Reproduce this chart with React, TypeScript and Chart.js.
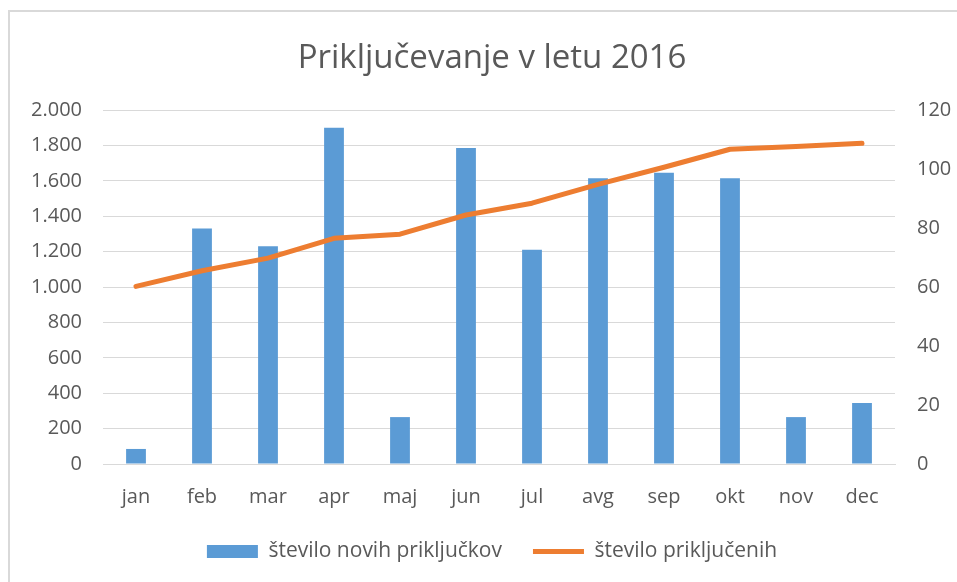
import React, { useEffect, useRef } from 'react';
import { Chart, registerables } from 'chart.js';

Chart.register(...registerables);

const titleText = 'Priključevanje v letu 2016';
const months = ['jan', 'feb', 'mar', 'apr', 'maj', 'jun', 'jul', 'avg', 'sep', 'okt', 'nov', 'dec'];
const newConnectionsLabel = 'število novih priključkov';
const newConnections = [85, 1330, 1230, 1900, 265, 1785, 1210, 1615, 1645, 1615, 265, 345];
const connectedLabel = 'število priključenih';
const connected = [60.2, 65.5, 69.8, 76.5, 77.9, 84.4, 88.4, 94.8, 100.6, 106.7, 107.6, 108.7];
const leftAxis = { min: 0, max: 2000, step: 200 };
const rightAxis = { min: 0, max: 120, step: 20 };

const FONT = '"Open Sans", "DejaVu Sans", sans-serif';
const TEXT = '#595959';
const GRID = '#D9D9D9';
const BLUE = '#5B9BD5';
const ORANGE = '#ED7D31';

function fmtThousands(v: number): string {
  const n = Math.round(v);
  if (n >= 1000) {
    return Math.floor(n / 1000) + '.' + String(n % 1000).padStart(3, '0');
  }
  return String(n);
}

export default function App() {
  const ref = useRef<HTMLCanvasElement | null>(null);

  useEffect(() => {
    if (!ref.current) return;
    const chart = new Chart(ref.current, {
      type: 'bar',
      data: {
        labels: months,
        datasets: [
          {
            type: 'line',
            label: connectedLabel,
            data: connected,
            yAxisID: 'y1',
            borderColor: ORANGE,
            backgroundColor: ORANGE,
            borderWidth: 5,
            borderCapStyle: 'round',
            borderJoinStyle: 'round',
            pointRadius: 0,
            pointHoverRadius: 0,
            pointStyle: 'line',
            tension: 0,
          } as any,
          {
            type: 'bar',
            label: newConnectionsLabel,
            data: newConnections,
            yAxisID: 'y',
            backgroundColor: BLUE,
            borderWidth: 0,
            categoryPercentage: 1,
            barPercentage: 0.3,
            pointStyle: 'rect',
          } as any,
        ],
      },
      options: {
        responsive: false,
        animation: false,
        events: [],
        devicePixelRatio: 1,
        layout: { padding: { top: 0, left: 0, right: 0, bottom: 0 } },
        plugins: {
          tooltip: { enabled: false },
          title: {
            display: true,
            text: titleText,
            color: TEXT,
            font: { family: FONT, size: 33, weight: 'normal', lineHeight: 1.2 },
            padding: { top: 26.4, bottom: 32 },
          },
          legend: {
            display: true,
            position: 'bottom',
            reverse: true,
            labels: {
              usePointStyle: true,
              pointStyleWidth: 51,
              boxHeight: 13,
              padding: 31,
              color: TEXT,
              font: { family: FONT, size: 21 },
            },
          },
        },
        scales: {
          x: {
            offset: true,
            grid: { display: false, drawTicks: false },
            border: { display: true, color: GRID, width: 1 },
            ticks: { color: TEXT, font: { family: FONT, size: 20 }, padding: 21, maxRotation: 0 },
            afterFit: (s: any) => { s.height = 46; },
          },
          y: {
            position: 'left',
            min: leftAxis.min,
            max: leftAxis.max,
            grid: { color: GRID, lineWidth: 1, drawTicks: false },
            border: { display: false },
            ticks: {
              stepSize: leftAxis.step,
              color: TEXT,
              padding: 21,
              font: { family: FONT, size: 20 },
              callback: (v: any) => fmtThousands(Number(v)),
            },
            afterFit: (s: any) => { s.width = 93; },
          },
          y1: {
            position: 'right',
            min: rightAxis.min,
            max: rightAxis.max,
            grid: { display: false, drawTicks: false },
            border: { display: false },
            ticks: {
              stepSize: rightAxis.step,
              color: TEXT,
              padding: 22,
              font: { family: FONT, size: 20 },
            },
            afterFit: (s: any) => { s.width = 79; },
          },
        },
      } as any,
    });
    return () => chart.destroy();
  }, []);

  return (
    <div
      style={{
        position: 'fixed',
        left: 0,
        top: 0,
        width: 957,
        height: 582,
        overflow: 'hidden',
        background: '#ffffff',
      }}
    >
      <div
        style={{
          position: 'absolute',
          left: 8,
          top: 10,
          borderTop: '2px solid #D9D9D9',
          borderLeft: '2px solid #D9D9D9',
          width: 964,
          height: 600,
          background: '#ffffff',
        }}
      >
        <canvas ref={ref} width={964} height={560} style={{ display: 'block', width: 964, height: 560 }} />
      </div>
    </div>
  );
}
